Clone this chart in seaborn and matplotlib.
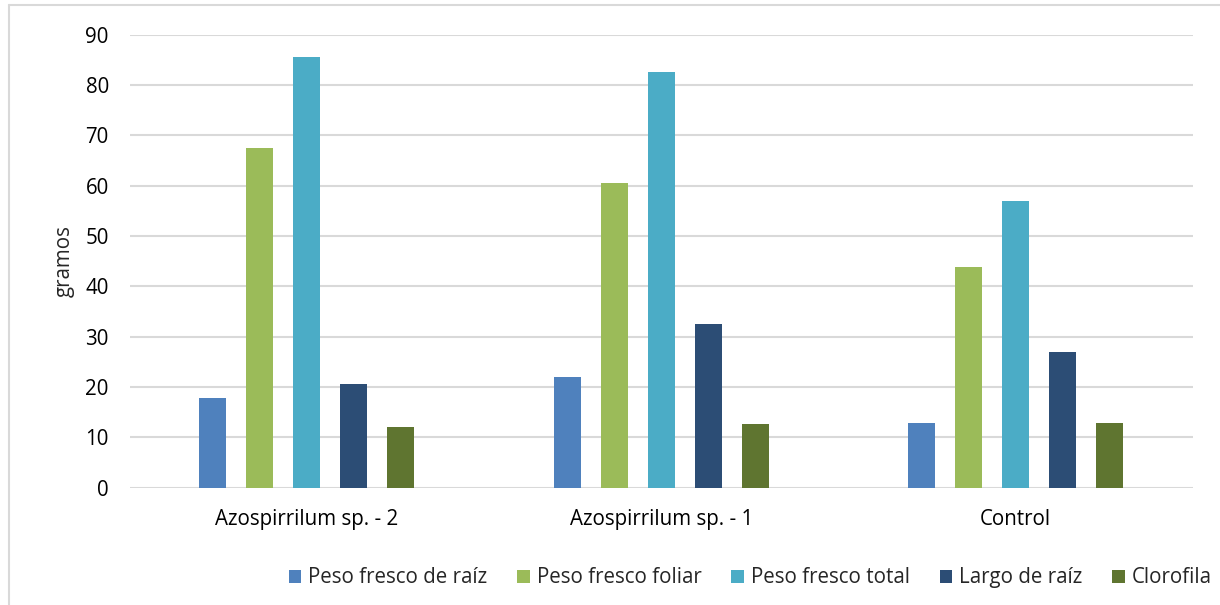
import pandas as pd
import seaborn as sns
import matplotlib.pyplot as plt
from matplotlib.lines import Line2D

# data
groups = ["Azospirrilum sp. - 2", "Azospirrilum sp. - 1", "Control"]
series = ["Peso fresco de raíz", "Peso fresco foliar", "Peso fresco total",
          "Largo de raíz", "Clorofila"]
peso_raiz = [17.9, 21.9, 12.9]
peso_foliar = [67.5, 60.6, 43.9]
peso_total = [85.5, 82.6, 56.9]
largo_raiz = [20.6, 32.5, 26.9]
clorofila = [12.0, 12.7, 12.8]
colors = ["#4F81BD", "#9BBB59", "#4BACC6", "#2C4D75", "#5F7530"]

values = [peso_raiz, peso_foliar, peso_total, largo_raiz, clorofila]
rows = []
for name, vals in zip(series, values):
    for g, v in zip(groups, vals):
        rows.append({"grupo": g, "serie": name, "valor": v})
df = pd.DataFrame(rows)

sns.set_style("white")
plt.rcParams["font.family"] = ["Open Sans", "DejaVu Sans"]

fig = plt.figure(figsize=(12.2, 6.05), dpi=100)
ax = fig.add_axes([0.1063, 0.1939, 0.8713, 0.7487])

sns.barplot(data=df, x="grupo", y="valor", hue="serie", hue_order=series,
            order=groups, palette=colors, saturation=1, width=0.663, gap=0.425,
            linewidth=0, ax=ax, zorder=3)

ax.set_ylim(0, 90)
ax.set_xlim(-0.5, 2.5)
ax.set_yticks(range(0, 91, 10))
ax.yaxis.grid(True, color="#d9d9d9", linewidth=1.5, zorder=0)
ax.set_axisbelow(True)
for s in ax.spines.values():
    s.set_visible(False)
ax.tick_params(axis="both", length=0, labelsize=14.8, colors="#000000")
ax.tick_params(axis="y", pad=15)
ax.tick_params(axis="x", pad=15)
ax.set_xlabel("")
ax.set_ylabel("gramos", fontsize=14.8, labelpad=8)

ax.legend(loc="center", bbox_to_anchor=(0.615, 0.045), bbox_transform=fig.transFigure,
          ncol=5, frameon=False, fontsize=14.8, handlelength=0.6, handleheight=0.6,
          handletextpad=0.35, columnspacing=1.45)

# light frame of the chart area (only left and top edges visible)
fig.add_artist(Line2D([0.0072, 0.0072], [0, 0.991], color="#d9d9d9", lw=1.5))
fig.add_artist(Line2D([0.0072, 1], [0.991, 0.991], color="#d9d9d9", lw=1.5))

fig.savefig("out.png", dpi=100)
